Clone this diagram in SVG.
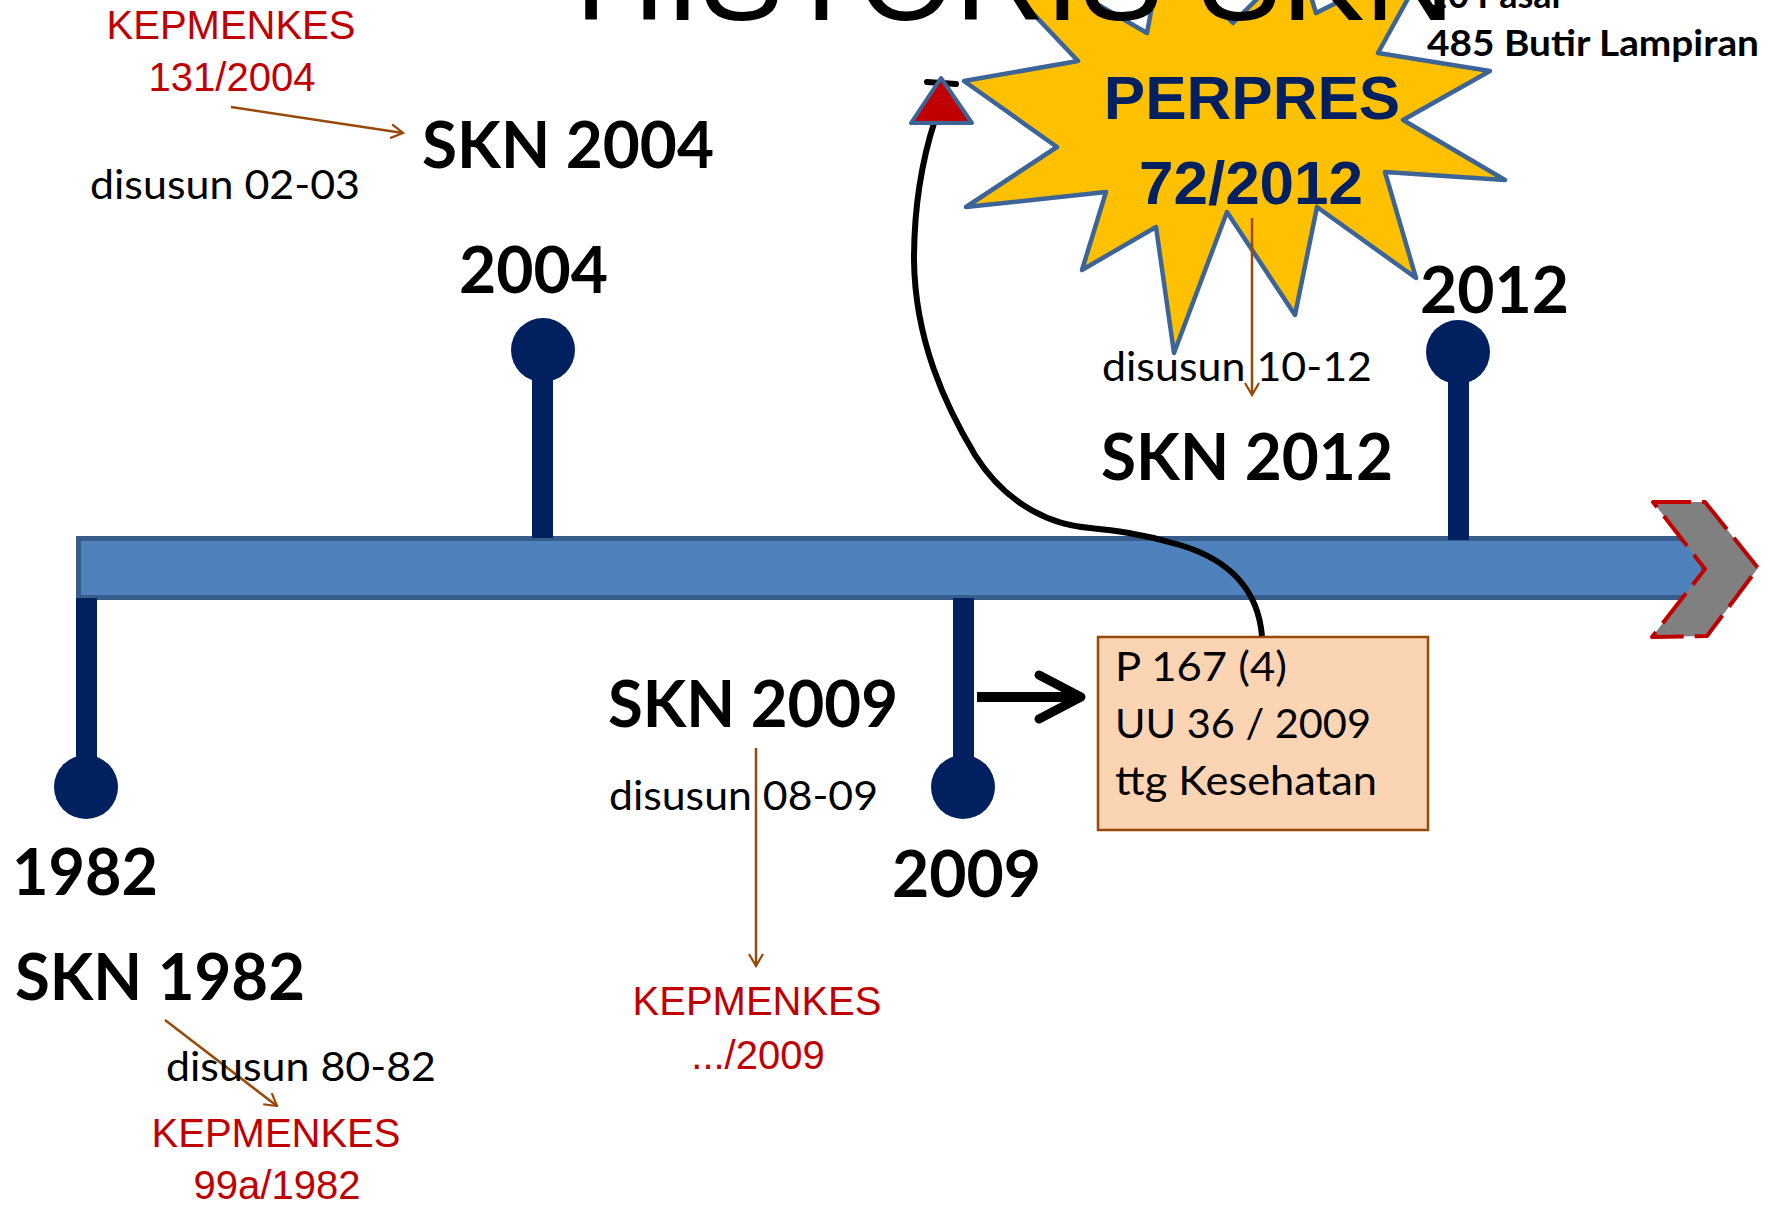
<svg xmlns="http://www.w3.org/2000/svg" width="1770" height="1205" viewBox="0 0 1770 1205">
<defs>
<style>
.bold{font-family:Lato,"Open Sans","Liberation Sans",sans-serif;font-weight:700;font-size:65px;fill:#000}
.reg{font-family:Lato,"Open Sans","Liberation Sans",sans-serif;font-weight:400;font-size:40px;fill:#000}
.red{font-family:"Liberation Sans",Arial,sans-serif;font-size:40px;fill:#C00000;text-anchor:middle}
.perp{font-family:"Liberation Sans",Arial,sans-serif;font-weight:700;font-size:62px;fill:#002060;text-anchor:middle}
.stem{fill:#002060}
.brown{stroke:#984807;stroke-width:2.5;fill:none;marker-end:url(#openv)}
</style>
<marker id="openv" viewBox="0 0 16 16" refX="14" refY="8" markerWidth="16" markerHeight="16" markerUnits="userSpaceOnUse" orient="auto">
<path d="M2,1 L14,8 L2,15" fill="none" stroke="#984807" stroke-width="2.2"/>
</marker>
</defs>
<rect width="1770" height="1205" fill="#fff"/>

<g id="timeline">
<rect x="78.5" y="538.5" width="1625" height="59" fill="#4F81BD" stroke="#385D8A" stroke-width="5"/>
<polygon points="1653,502 1705,502 1758,568 1707,636 1652,637 1705,569" fill="#808080" stroke="#C00000" stroke-width="4" stroke-dasharray="38 11" stroke-linejoin="round"/>
</g>

<g id="stem-1982"><rect class="stem" x="76" y="598" width="21" height="189"/><circle class="stem" cx="86" cy="787" r="32"/></g>
<g id="stem-2004"><rect class="stem" x="532" y="349" width="21" height="189"/><circle class="stem" cx="543" cy="350" r="32"/></g>
<g id="stem-2009"><rect class="stem" x="953" y="598" width="21" height="189"/><circle class="stem" cx="963" cy="787" r="32"/></g>
<g id="stem-2012"><rect class="stem" x="1448" y="352" width="21" height="188"/><circle class="stem" cx="1458" cy="352" r="32"/></g>

<g id="perpres">
<polygon points="964,81 1078,61 935,-90 1147,33 1162,-48 1233,23 1299,-43 1316,13 1432,-45 1378,53 1490,71 1403,120 1505,180 1385,172 1416,278 1317,207 1295,315 1227,212 1174,353 1156,227 1082,270 1106,192 966,207 1057,147" fill="#FFC000" stroke="#3C6496" stroke-width="4.5" stroke-linejoin="round"/>
<text class="perp" x="1252" y="119">PERPRES</text>
<text class="perp" x="1251" y="204">72/2012</text>
</g>

<g id="uu-box">
<rect x="1098" y="637" width="330" height="193" fill="#FBD4B4" stroke="#984807" stroke-width="2.5"/>
<text class="reg" x="1115" y="681" textLength="172" lengthAdjust="spacingAndGlyphs">P 167 (4)</text>
<text class="reg" x="1115" y="738" textLength="256" lengthAdjust="spacingAndGlyphs">UU 36 / 2009</text>
<text class="reg" x="1115" y="795" textLength="262" lengthAdjust="spacingAndGlyphs">ttg Kesehatan</text>
</g>

<g id="connectors">
<line class="brown" x1="231" y1="107" x2="403" y2="133"/>
<line class="brown" x1="1252" y1="218" x2="1252" y2="395"/>
<line class="brown" x1="756" y1="748" x2="756" y2="966"/>
<line class="brown" x1="165" y1="1020" x2="277" y2="1106"/>
<line x1="977" y1="697" x2="1074" y2="697" stroke="#000" stroke-width="10"/>
<polyline points="1039,675 1081,697 1039,719" fill="none" stroke="#000" stroke-width="9" stroke-linecap="round" stroke-linejoin="round"/>
<path d="M1262,636 C1258,590 1230,560 1180,545 C1140,533 1110,530 1090,528 C1040,524 1000,495 975,455 C945,405 915,340 914,260 C914,210 922,160 935,120" fill="none" stroke="#000" stroke-width="6"/>
<line x1="927" y1="82" x2="956" y2="84" stroke="#000" stroke-width="6" stroke-linecap="round"/>
<polygon points="941,78 911,123 972,123" fill="#C00000" stroke="#3C6496" stroke-width="4" stroke-linejoin="round"/>
</g>

<g id="labels">
<text x="575" y="20" font-family="'Liberation Sans',Arial,sans-serif" font-size="125" fill="#000">HISTORIS SKN</text>
<text class="bold" x="1427" y="8" style="font-size:36px">10 Pasal</text>
<text class="bold" x="1427" y="56" style="font-size:36px" textLength="332" lengthAdjust="spacingAndGlyphs">485 Butir Lampiran</text>

<text class="red" x="231" y="39">KEPMENKES</text>
<text class="red" x="232" y="91">131/2004</text>
<text class="bold" x="422" y="168" textLength="292" lengthAdjust="spacingAndGlyphs">SKN 2004</text>
<text class="reg" x="90" y="199" textLength="270" lengthAdjust="spacingAndGlyphs">disusun 02-03</text>
<text class="bold" x="459" y="293" textLength="149" lengthAdjust="spacingAndGlyphs">2004</text>

<text class="bold" x="1420" y="313" textLength="149" lengthAdjust="spacingAndGlyphs">2012</text>
<text class="reg" x="1102" y="381" textLength="270" lengthAdjust="spacingAndGlyphs">disusun 10-12</text>
<text class="bold" x="1101" y="480" textLength="292" lengthAdjust="spacingAndGlyphs">SKN 2012</text>

<text class="bold" x="608" y="727" textLength="290" lengthAdjust="spacingAndGlyphs">SKN 2009</text>
<text class="reg" x="609" y="810" textLength="269" lengthAdjust="spacingAndGlyphs">disusun 08-09</text>
<text class="bold" x="892" y="897" textLength="149" lengthAdjust="spacingAndGlyphs">2009</text>
<text class="red" x="757" y="1015">KEPMENKES</text>
<text class="red" x="758" y="1069">.../2009</text>

<text class="bold" x="12" y="895" textLength="146" lengthAdjust="spacingAndGlyphs">1982</text>
<text class="bold" x="15" y="1000" textLength="290" lengthAdjust="spacingAndGlyphs">SKN 1982</text>
<text class="reg" x="166" y="1081" textLength="270" lengthAdjust="spacingAndGlyphs">disusun 80-82</text>
<text class="red" x="276" y="1147">KEPMENKES</text>
<text class="red" x="277" y="1199">99a/1982</text>
</g>
</svg>
